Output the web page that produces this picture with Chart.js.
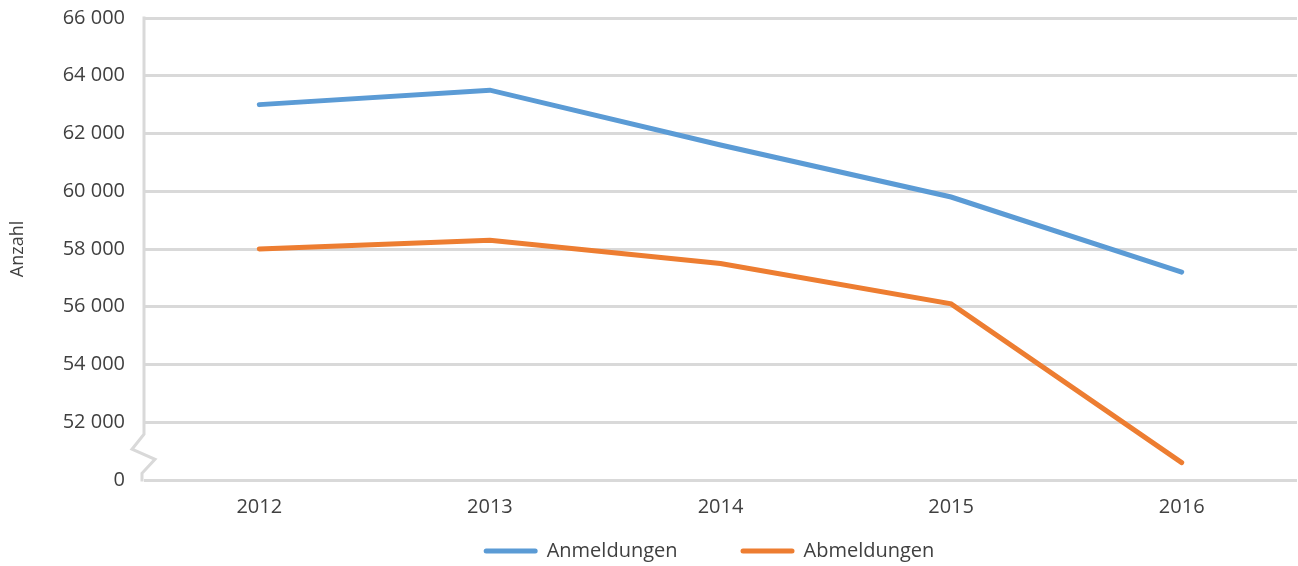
<!DOCTYPE html>
<html>
<head>
<meta charset="utf-8">
<script src="https://cdn.jsdelivr.net/npm/chart.js@4"></script>
<style>
  html, body { margin: 0; padding: 0; background: #fff; }
  #wrap { width: 1298px; height: 566px; }
</style>
</head>
<body>
<div id="wrap"><canvas id="chart"></canvas></div>
<script>
const years = ["2012", "2013", "2014", "2015", "2016"];
const anmeldungen = [63000, 63500, 61600, 59800, 57200];
const abmeldungen = [58000, 58300, 57500, 56100, 50600];
const yMin = 50000;
const yMax = 66000;
const yStep = 2000;

const textColor = "#404040";
const gridColor = "#d9d9d9";
const fontFamily = "'Open Sans', sans-serif";

const fmt = v => v === yMin ? "0" : String(v).replace(/\B(?=(\d{3})+(?!\d))/g, " ");

// left axis with the zigzag break between 0 and 52 000
const axisBreak = {
  id: "axisBreak",
  beforeDatasetsDraw(chart) {
    const { ctx, scales: { y } } = chart;
    const x = y.right;
    const top = y.getPixelForValue(yMax);
    const low = y.getPixelForValue(yMin + yStep);
    const bot = y.getPixelForValue(yMin);
    ctx.save();
    ctx.strokeStyle = gridColor;
    ctx.lineWidth = 3;
    ctx.lineJoin = "miter";
    ctx.beginPath();
    ctx.moveTo(x, top - 1.5);
    ctx.lineTo(x, low + 12);
    ctx.lineTo(x - 12, low + 27);
    ctx.lineTo(x + 11, low + 37);
    ctx.lineTo(x - 2, low + 51);
    ctx.lineTo(x - 2, bot + 1.5);
    ctx.stroke();
    ctx.restore();
  }
};

// legend drawn below the axis with wide spacing between entries
const bottomLegend = {
  id: "bottomLegend",
  afterDraw(chart) {
    const { ctx } = chart;
    const sw = 54, gapText = 9, gapItem = 63;
    const cy = 551;
    ctx.save();
    ctx.font = "20px " + fontFamily;
    const items = chart.data.datasets.map(d => ({
      text: d.label, color: d.borderColor, w: ctx.measureText(d.label).width
    }));
    const total = items.reduce((s, it) => s + sw + gapText + it.w, 0) + gapItem * (items.length - 1);
    let x = 709 - total / 2;
    items.forEach(it => {
      ctx.strokeStyle = it.color;
      ctx.lineWidth = 5;
      ctx.lineCap = "round";
      ctx.beginPath();
      ctx.moveTo(x + 2.5, cy);
      ctx.lineTo(x + sw - 2.5, cy);
      ctx.stroke();
      ctx.fillStyle = textColor;
      ctx.textBaseline = "middle";
      ctx.textAlign = "left";
      ctx.fillText(it.text, x + sw + gapText, cy);
      x += sw + gapText + it.w + gapItem;
    });
    ctx.restore();
  }
};

new Chart(document.getElementById("chart"), {
  type: "line",
  data: {
    labels: years,
    datasets: [
      {
        label: "Anmeldungen",
        data: anmeldungen,
        borderColor: "#5b9bd5",
        backgroundColor: "#5b9bd5",
        borderWidth: 5,
        pointRadius: 0,
        borderCapStyle: "round",
        tension: 0
      },
      {
        label: "Abmeldungen",
        data: abmeldungen,
        borderColor: "#ed7d31",
        backgroundColor: "#ed7d31",
        borderWidth: 5,
        pointRadius: 0,
        borderCapStyle: "round",
        tension: 0
      }
    ]
  },
  options: {
    responsive: true,
    maintainAspectRatio: false,
    animation: false,
    layout: { padding: { top: 18, right: 1, bottom: 32, left: 0 } },
    plugins: {
      legend: { display: false },
      tooltip: { enabled: false }
    },
    scales: {
      x: {
        offset: true,
        grid: { display: false, drawTicks: false },
        border: { display: false },
        ticks: {
          color: textColor,
          padding: 15,
          font: { family: fontFamily, size: 20 }
        }
      },
      y: {
        min: yMin,
        max: yMax,
        afterFit: s => { s.width = 144; s.paddingTop = 0; s.paddingBottom = 0; },
        grid: { color: gridColor, lineWidth: 3, drawTicks: false },
        border: { display: false },
        ticks: {
          stepSize: yStep,
          color: textColor,
          padding: 19,
          font: { family: fontFamily, size: 20 },
          callback: v => fmt(v)
        },
        title: {
          display: true,
          text: "Anzahl",
          color: textColor,
          padding: { top: 7, bottom: 0 },
          font: { family: fontFamily, size: 18 }
        }
      }
    }
  },
  plugins: [axisBreak, bottomLegend]
});
</script>
</body>
</html>
